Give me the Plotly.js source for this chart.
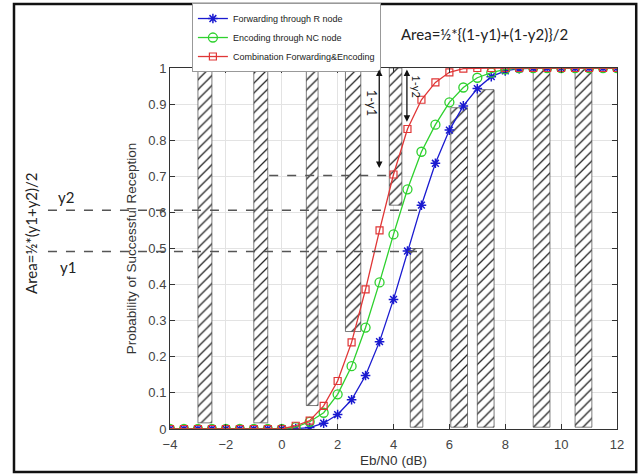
<!DOCTYPE html>
<html>
<head>
<meta charset="utf-8">
<script src="https://cdn.plot.ly/plotly-3.0.1.min.js"></script>
<style>html,body{margin:0;padding:0;background:#fff;}#chart{width:638px;height:475px;}</style>
</head>
<body>
<div id="chart"></div>
<script>
// Eb/N0 (dB) sample points
var ebn0 = [-4,-3.5,-3,-2.5,-2,-1.5,-1,-0.5,0,0.5,1,1.5,2,2.5,3,3.5,4,4.5,5,5.5,6,6.5,7,7.5,8,8.5,9,9.5,10,10.5,11,11.5,12];
var forwarding = [0,0,0,0,0,0,0,0,0,0.001,0.004,0.016,0.04,0.081,0.148,0.242,0.359,0.493,0.62,0.736,0.828,0.895,0.943,0.976,0.992,0.998,1,1,1,1,1,1,1];
var encoding = [0,0,0,0,0,0,0,0,0,0.005,0.02,0.045,0.096,0.174,0.281,0.406,0.539,0.664,0.768,0.843,0.905,0.946,0.973,0.987,0.996,1,1,1,1,1,1,1,1];
var combination = [0,0,0,0,0,0,0,0,0,0.009,0.023,0.064,0.133,0.24,0.387,0.55,0.705,0.831,0.912,0.96,0.988,0.998,1,1,1,1,1,1,1,1,1,1,1];
var seriesNames = ['Forwarding through R node','Encoding through NC node','Combination Forwarding&Encoding'];

// hatched bands (x from / to, y bottom / top)
var bandStart = [-3.0,-1.0,0.88,2.28,3.85,4.6,6.05,7.0,9.0,10.5];
var bandEnd   = [-2.5,-0.5,1.3,2.83,4.3,5.05,6.65,7.6,9.6,11.1];
var bandLow   = [0.017,0.017,0.065,0.27,0.62,0.005,0.005,0.005,0.005,0.005];
var bandHigh  = [1,1,1,1,1,0.5,0.89,0.94,1,1];

// annotation levels
var y1 = 0.492, y2 = 0.606, yTop = 0.702;
var arrow1 = {x: 3.49, low: 0.723, high: 1};
var arrow2 = {x: 4.48, low: 0.851, high: 1};

var xMin = -4, xMax = 12;
function px(x){ return (x - xMin) / (xMax - xMin); }

var bandCenter = bandStart.map(function(s,i){ return (s + bandEnd[i]) / 2; });
var bandWidth = bandStart.map(function(s,i){ return bandEnd[i] - s; });
var bandHeight = bandLow.map(function(b,i){ return bandHigh[i] - b; });

var traces = [
  {type:'bar', x: bandCenter, y: bandHeight, base: bandLow, width: bandWidth,
   showlegend:false, hoverinfo:'skip',
   marker:{color:'#ffffff', line:{color:'#444', width:0.7},
           pattern:{shape:'/', size:7, solidity:0.18, fgcolor:'#222', bgcolor:'#ffffff'}}},
  {type:'scatter', mode:'lines+markers', name: seriesNames[0], x: ebn0, y: forwarding,
   line:{color:'#1a1ad0', width:1.3},
   marker:{symbol:'asterisk-open', size:8, color:'#1a1ad0', line:{color:'#1a1ad0', width:1.5}}},
  {type:'scatter', mode:'lines+markers', name: seriesNames[1], x: ebn0, y: encoding,
   line:{color:'#2ed12e', width:1.3},
   marker:{symbol:'circle-open', size:9, color:'#2ed12e', line:{color:'#2ed12e', width:1.3}}},
  {type:'scatter', mode:'lines+markers', name: seriesNames[2], x: ebn0, y: combination,
   line:{color:'#e03636', width:1.3},
   marker:{symbol:'square-open', size:7, color:'#e03636', line:{color:'#e03636', width:1.2}}}
];

var dashLine = {color:'#555', width:1.5, dash:'dash'};
var annFont = {family:'Lato, "Noto Sans", sans-serif', size:15, color:'#222'};
function note(x, y, text, extra){
  var a = {xref:'paper', yref:'paper', x:x, y:y, text:text, showarrow:false,
           xanchor:'center', yanchor:'middle', font:annFont};
  for (var k in (extra||{})) a[k] = extra[k];
  return a;
}

var layout = {
  width:638, height:475,
  margin:{l:170, r:21, t:68, b:46, pad:0, autoexpand:false},
  paper_bgcolor:'#ffffff', plot_bgcolor:'#ffffff',
  font:{family:'"Liberation Sans", Arial, sans-serif', size:13, color:'#333'},
  barmode:'overlay', bargap:0,
  showlegend:true,
  legend:{x:0.049, y:1.18, xanchor:'left', yanchor:'top', bgcolor:'#ffffff',
          bordercolor:'#999', borderwidth:1, font:{size:9, color:'#222'},
          tracegroupgap:0, itemwidth:30},
  xaxis:{range:[xMin,xMax], tickvals:[-4,-2,0,2,4,6,8,10,12], ticks:'inside', ticklen:5,
         showgrid:true, gridcolor:'#e3e3e3', zeroline:false, showline:true, linecolor:'#333',
         mirror:'ticks', tickcolor:'#333', tickfont:{size:13, color:'#444'}, ticklabelstandoff:3,
         title:{text:'Eb/N0 (dB)', font:{size:13.5, color:'#333'}, standoff:4}},
  yaxis:{range:[0,1], tickvals:[0,0.1,0.2,0.3,0.4,0.5,0.6,0.7,0.8,0.9,1],
         ticktext:['0','0.1','0.2','0.3','0.4','0.5','0.6','0.7','0.8','0.9','1'],
         ticks:'inside', ticklen:5, showgrid:true, gridcolor:'#e3e3e3', zeroline:false,
         showline:true, linecolor:'#333', mirror:'ticks', tickcolor:'#333',
         tickfont:{size:13, color:'#444'},
         title:{text:'Probability of Successful Reception', font:{size:13.5, color:'#333'}, standoff:8}},
  shapes:[
    {type:'line', xref:'paper', yref:'paper', x0:-0.273, x1:px(4.95), y0:y2, y1:y2, line:dashLine},
    {type:'line', xref:'paper', yref:'paper', x0:-0.273, x1:px(4.95), y0:y1, y1:y1, line:dashLine},
    {type:'line', xref:'paper', yref:'paper', x0:px(-0.45), x1:px(3.9), y0:yTop, y1:yTop, line:dashLine},
    {type:'rect', xref:'paper', yref:'paper', x0:-0.349, x1:1.043, y0:-0.119, y1:1.177,
     line:{color:'#111', width:2.5}, fillcolor:'rgba(0,0,0,0)'}
  ],
  annotations:[
    {xref:'x', yref:'y', axref:'x', ayref:'y', x:arrow1.x, y:arrow1.low, ax:arrow1.x, ay:arrow1.high,
     text:'', showarrow:true, arrowside:'end+start', arrowhead:2, arrowsize:1, arrowwidth:1.3, arrowcolor:'#111', standoff:0, startstandoff:0},
    {xref:'x', yref:'y', axref:'x', ayref:'y', x:arrow2.x, y:arrow2.low, ax:arrow2.x, ay:arrow2.high,
     text:'', showarrow:true, arrowside:'end+start', arrowhead:2, arrowsize:1, arrowwidth:1.3, arrowcolor:'#111', standoff:0, startstandoff:0},
    {xref:'x', yref:'y', x:3.24, y:0.903, text:'1-y1', showarrow:false, textangle:90, xanchor:'center', yanchor:'middle', font:{family:annFont.family, size:13, color:'#222'}},
    {xref:'x', yref:'y', x:4.82, y:0.948, text:'1-y2', showarrow:false, textangle:90, xanchor:'center', yanchor:'middle', font:{family:annFont.family, size:11, color:'#222'}},
    note(0.704, 1.094, 'Area=½*{(1-y1)+(1-y2)}/2'),
    note(-0.311, 0.543, 'Area=½*(y1+y2)/2', {textangle:-90}),
    note(-0.232, 0.643, 'y2'),
    note(-0.229, 0.45, 'y1')
  ]
};

Plotly.newPlot('chart', traces, layout, {displayModeBar:false, staticPlot:true});
</script>
</body>
</html>
